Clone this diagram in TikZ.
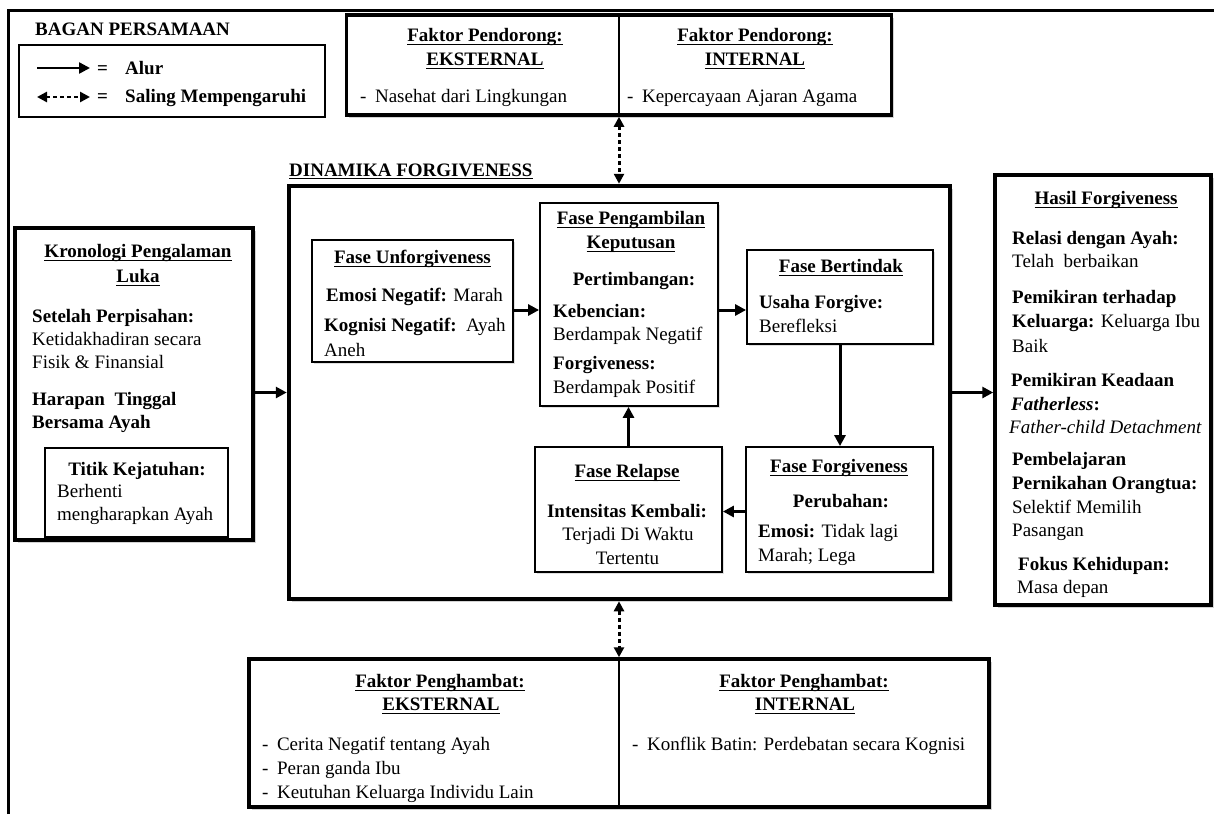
\documentclass[tikz,border=0pt]{standalone}
\usepackage{fontspec}
\setmainfont{Liberation Serif}
\usetikzlibrary{arrows.meta,shadows}
\newcommand\myfs{\fontsize{19}{23}\selectfont}
\newcommand\myul[1]{\setbox0\hbox{#1}\rlap{\rule[-4.2pt]{\wd0}{1.3pt}}\box0}
\newcommand\myulb[1]{\setbox0\hbox{#1}\rlap{\rule[-3.2pt]{\wd0}{1.3pt}}\box0}
\tikzset{
  bigbox/.style={draw, line width=3.5pt, fill=white, inner sep=0pt,
    drop shadow={shadow xshift=2.5pt, shadow yshift=-3pt, opacity=0.35}},
  box/.style={draw, line width=1.8pt, fill=white, inner sep=0pt,
    drop shadow={shadow xshift=1.5pt, shadow yshift=-2pt, opacity=0.25}},
  thinbox/.style={draw, line width=1.2pt, inner sep=0pt},
  tl/.style={inner sep=0pt, anchor=base west, font=\myfs},
  tc/.style={inner sep=0pt, anchor=base, font=\myfs},
  tlb/.style={tl, font=\myfs\bfseries},
  tcb/.style={tc, font=\myfs\bfseries},
  flow/.style={line width=3pt, -{Triangle[length=11pt,width=11pt]}},
  mutual/.style={line width=3pt, dash pattern=on 4pt off 3pt,
    {Triangle[length=10pt,width=10pt]}-{Triangle[length=10pt,width=10pt]}},
  divider/.style={line width=1.2pt}
}
\begin{document}
\begin{tikzpicture}[x=1pt,y=-1pt]
\useasboundingbox (0,0) rectangle (1214,814);
% outer frame
\draw[line width=3pt] (8,814) -- (8,10) -- (1214,10);

% legend
\node[tlb] (lgt) at (35,35) {BAGAN PERSAMAAN};
\node[thinbox, minimum width=306pt, minimum height=72pt] (lg) at (172,81) {};
\coordinate (la1) at (37,68); \coordinate (la2) at (90,68);
\draw[flow, line width=2.5pt] (la1) -- (la2);
\node[tlb] (lgeqa) at (97,74) {=};
\node[tlb] (lgalur) at (125,74) {Alur};
\coordinate (lb1) at (37,97); \coordinate (lb2) at (90,97);
\draw[mutual, line width=2.5pt] (lb1) -- (lb2);
\node[tlb] (lgeqb) at (97,102) {=};
\node[tlb] (lgsal) at (125,102) {Saling Mempengaruhi};

% Faktor Pendorong
\node[bigbox, minimum width=545pt, minimum height=100pt] (pd) at (619,65) {};
\draw[divider] (pd.north) -- (pd.south);
\node[tcb] (pdeta) at (485,41) {\myul{Faktor Pendorong:}};
\node[tcb] (pdetb) at (485,65) {\myul{EKSTERNAL}};
\node[tcb] (pdita) at (755,41) {\myul{Faktor Pendorong:}};
\node[tcb] (pditb) at (755,65) {\myul{INTERNAL}};
\node[tl] (pdei) at (360,102) {-\hspace{0.45em}Nasehat dari Lingkungan};
\node[tl] (pdii) at (627,102) {-\hspace{0.45em}Kepercayaan Ajaran Agama};

% main box
\node[bigbox, line width=4.5pt, minimum width=661pt, minimum height=413pt] (main) at (619.5,392.5) {};
\node[tlb] (dyn) at (289,176) {\myulb{DINAMIKA FORGIVENESS}};

% Kronologi
\node[bigbox, minimum width=238pt, minimum height=312pt] (kron) at (134,384) {};
\node[tcb] (krta) at (138,257) {\myul{Kronologi Pengalaman}};
\node[tcb] (krtb) at (138,282) {\myul{Luka}};
\node[tlb] (kra) at (32,322) {Setelah Perpisahan:};
\node[tl] (krb) at (32,345) {Ketidakhadiran secara};
\node[tl] (krc) at (32,368) {Fisik \& Finansial};
\node[tlb] (krd) at (32,405) {Harapan\ \ Tinggal};
\node[tlb] (kre) at (32,428) {Bersama Ayah};
\node[thinbox, line width=1.3pt, minimum width=183pt, minimum height=89pt] (titik) at (136.5,492.5) {};
\node[tcb] (tka) at (137,475) {Titik Kejatuhan:};
\node[tl] (tkb) at (57,497) {Berhenti};
\node[tl] (tkc) at (57,520) {mengharapkan Ayah};

% Fase Unforgiveness
\node[box, minimum width=201pt, minimum height=122pt] (unf) at (412.5,301) {};
\node[tcb] (unft) at (412.5,263) {\myul{Fase Unforgiveness}};
\node[tl] (unfa) at (326,301) {\textbf{Emosi Negatif:} Marah};
\node[tl] (unfb) at (324,331) {\textbf{Kognisi Negatif:}\ \ Ayah};
\node[tl] (unfc) at (324,356) {Aneh};

% Fase Pengambilan Keputusan
\node[box, minimum width=178pt, minimum height=203pt] (peng) at (629,304.5) {};
\node[tcb] (pgta) at (631,224) {\myul{Fase Pengambilan}};
\node[tcb] (pgtb) at (631,248) {\myul{Keputusan}};
\node[tcb] (pga) at (634,285) {Pertimbangan:};
\node[tlb] (pgb) at (553,317) {Kebencian:};
\node[tl] (pgc) at (553,340) {Berdampak Negatif};
\node[tlb] (pgd) at (553,369) {Forgiveness:};
\node[tl] (pge) at (553,393) {Berdampak Positif};

% Fase Bertindak
\node[box, minimum width=186pt, minimum height=94pt] (bert) at (840,297) {};
\node[tcb] (btt) at (841,272) {\myul{Fase Bertindak}};
\node[tlb] (bta) at (759,308) {Usaha Forgive:};
\node[tl] (btb) at (759,332) {Berefleksi};

% Fase Forgiveness
\node[box, minimum width=187pt, minimum height=125pt] (forg) at (839.5,509.5) {};
\node[tcb] (fgt) at (839,472) {\myul{Fase Forgiveness}};
\node[tcb] (fga) at (841,507) {Perubahan:};
\node[tl] (fgb) at (758,537) {\textbf{Emosi:} Tidak lagi};
\node[tl] (fgc) at (758,561) {Marah; Lega};

% Fase Relapse
\node[box, minimum width=187pt, minimum height=125pt] (rel) at (628.5,509.5) {};
\node[tcb] (rlt) at (627,477) {\myul{Fase Relapse}};
\node[tcb] (rla) at (627,517) {Intensitas Kembali:};
\node[tc] (rlb) at (628,540) {Terjadi Di Waktu};
\node[tc] (rlc) at (627.5,564) {Tertentu};

% Hasil Forgiveness
\node[bigbox, minimum width=216pt, minimum height=430pt] (hasil) at (1103,390) {};
\node[tcb] (hst) at (1106,204) {\myul{Hasil Forgiveness}};
\node[tlb] (hsa) at (1012,244) {Relasi dengan Ayah:};
\node[tl] (hsb) at (1012,267) {Telah\ \ berbaikan};
\node[tlb] (hsc) at (1012,303) {Pemikiran terhadap};
\node[tl] (hsd) at (1012,327) {\textbf{Keluarga:} Keluarga Ibu};
\node[tl] (hse) at (1012,352) {Baik};
\node[tlb] (hsf) at (1011,386) {Pemikiran Keadaan};
\node[tlb] (hsg) at (1011,410) {\textit{Fatherless}:};
\node[tl] (hsh) at (1009,433) {\textit{Father-child Detachment}};
\node[tlb] (hsi) at (1012,465) {Pembelajaran};
\node[tlb] (hsj) at (1012,489) {Pernikahan Orangtua:};
\node[tl] (hsk) at (1012,513) {Selektif Memilih};
\node[tl] (hsl) at (1012,536) {Pasangan};
\node[tlb] (hsm) at (1018,570) {Fokus Kehidupan:};
\node[tl] (hsn) at (1017,593) {Masa depan};

% Faktor Penghambat
\node[bigbox, minimum width=740pt, minimum height=148pt] (hb) at (619,733) {};
\draw[divider] (hb.north) -- (hb.south);
\node[tcb] (hbeta) at (440,687) {\myul{Faktor Penghambat:}};
\node[tcb] (hbetb) at (441,710) {\myul{EKSTERNAL}};
\node[tcb] (hbita) at (804,687) {\myul{Faktor Penghambat:}};
\node[tcb] (hbitb) at (805,710) {\myul{INTERNAL}};
\node[tl] (hbea) at (262,750) {-\hspace{0.45em}Cerita Negatif tentang Ayah};
\node[tl] (hbeb) at (262,774) {-\hspace{0.45em}Peran ganda Ibu};
\node[tl] (hbec) at (262,798) {-\hspace{0.45em}Keutuhan Keluarga Individu Lain};
\node[tl] (hbia) at (632,750) {-\hspace{0.45em}Konflik Batin: Perdebatan secara Kognisi};

% connectors
\draw[mutual] (pd.south) -- (pd.south |- main.north);
\draw[mutual] (hb.north |- main.south) -- (hb.north);
\draw[flow] (kron.east |- main.west) -- (main.west);
\draw[flow] (main.east) -- (hasil.west |- main.east);
\draw[flow] ([yshift=-9pt]unf.east) -- ([yshift=-5.5pt]peng.west);
\draw[flow] ([yshift=-5.5pt]peng.east) -- ([yshift=-13pt]bert.west);
\draw[flow] (bert.south) -- (bert.south |- forg.north);
\draw[flow] ([yshift=-2pt]forg.west) -- ([yshift=-2pt]rel.east);
\draw[flow] (rel.north) -- (rel.north |- peng.south);
\end{tikzpicture}
\end{document}
